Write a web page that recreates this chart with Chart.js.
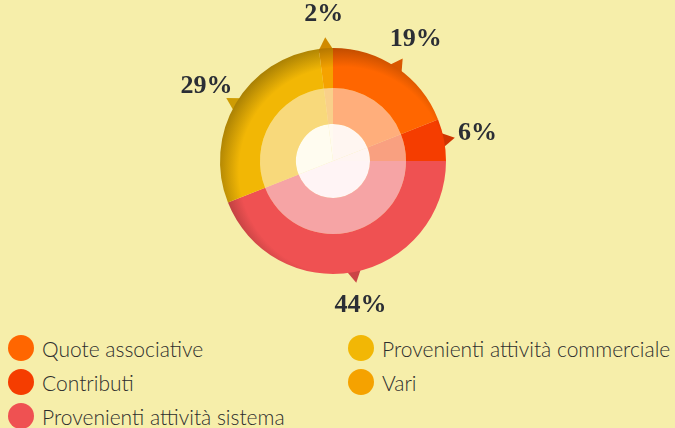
<!DOCTYPE html>
<html>
<head>
<meta charset="utf-8">
<script src="https://cdn.jsdelivr.net/npm/chart.js@4.4.0/dist/chart.umd.min.js"></script>
<style>
    html, body { margin: 0; padding: 0; width: 675px; height: 428px; overflow: hidden; background: #F6EEAA; }
    #grafico { position: absolute; left: 0; top: 0; }
    #legenda { position: absolute; left: 0; top: 331px; width: 675px; font-family: Lato, 'Open Sans', sans-serif; font-weight: 300; font-size: 21px; color: #2d2d2d; }
    .colonna { position: absolute; top: 0; }
    .voce { height: 34px; display: flex; align-items: center; white-space: nowrap; }
    .pallino { width: 26px; height: 26px; border-radius: 50%; margin-right: 8px; flex: none; }
</style>
</head>
<body>
<canvas id="grafico" width="675" height="330"></canvas>
<div id="legenda">
    <div class="colonna" id="colonna1" style="left: 8px;"></div>
    <div class="colonna" id="colonna2" style="left: 348px;"></div>
</div>
<script>
var categorie = [
    'Quote associative',
    'Contributi',
    'Provenienti attività sistema',
    'Provenienti attività commerciale',
    'Vari'
];
var percentuali = [19, 6, 44, 29, 2];

var coloriEsterni = ['#FF6600', '#F53D00', '#EF5152', '#F2B705', '#F5A200'];
var coloriInterni = ['#FFAE7B', '#F9A080', '#F6A4A5', '#F8D97B', '#F9D08A'];
var coloriCentro = ['#FFF6F1', '#FFF5F2', '#FFF4F5', '#FFFCF0', '#FFFAF0'];

function scurisci(hex, f) {
    var n = parseInt(hex.slice(1), 16);
    var r = Math.round(((n >> 16) & 255) * f);
    var g = Math.round(((n >> 8) & 255) * f);
    var b = Math.round((n & 255) * f);
    return 'rgb(' + r + ',' + g + ',' + b + ')';
}

// anello esterno con ombra verso l'alto a sinistra
function sfondoEsterno(context) {
    var base = coloriEsterni[context.dataIndex];
    var area = context.chart.chartArea;
    if (!area) return base;
    var cx = (area.left + area.right) / 2;
    var cy = (area.top + area.bottom) / 2;
    var g = context.chart.ctx.createRadialGradient(cx + 10, cy + 10, 104, cx + 10, cy + 10, 127);
    g.addColorStop(0, base);
    g.addColorStop(1, scurisci(base, 0.7));
    return g;
}

const puntatori = {
    id: 'puntatori',
    beforeDatasetsDraw(chart) {
        const ctx = chart.ctx;
        chart.getDatasetMeta(0).data.forEach(function (arc, i) {
            const p = arc.getProps(['x', 'y', 'startAngle', 'endAngle', 'outerRadius'], true);
            const mid = (p.startAngle + p.endAngle) / 2;
            const r = p.outerRadius;
            const meta = 9 / r;
            ctx.save();
            ctx.beginPath();
            ctx.moveTo(p.x + Math.cos(mid - meta) * (r - 4), p.y + Math.sin(mid - meta) * (r - 4));
            ctx.lineTo(p.x + Math.cos(mid) * (r + 11), p.y + Math.sin(mid) * (r + 11));
            ctx.lineTo(p.x + Math.cos(mid + meta) * (r - 4), p.y + Math.sin(mid + meta) * (r - 4));
            ctx.closePath();
            ctx.fillStyle = scurisci(coloriEsterni[i], 0.85);
            ctx.fill();
            ctx.restore();
        });
    },
    afterDatasetsDraw(chart) {
        const ctx = chart.ctx;
        ctx.save();
        ctx.font = 'bold 26px "Liberation Serif", "DejaVu Serif", serif';
        ctx.fillStyle = '#2B2E35';
        ctx.textAlign = 'center';
        ctx.textBaseline = 'middle';
        chart.getDatasetMeta(0).data.forEach(function (arc, i) {
            const p = arc.getProps(['x', 'y', 'startAngle', 'endAngle', 'outerRadius'], true);
            const mid = (p.startAngle + p.endAngle) / 2;
            const r = p.outerRadius + 34;
            ctx.fillText(percentuali[i] + '%', p.x + Math.cos(mid) * r, p.y + Math.sin(mid) * r);
        });
        ctx.restore();
    }
};

const dati = {
    labels: categorie,
    datasets: [{
        data: percentuali,
        backgroundColor: sfondoEsterno,
        borderWidth: 0,
        weight: 40
    }, {
        data: percentuali,
        backgroundColor: coloriInterni,
        borderWidth: 0,
        weight: 36
    }, {
        data: percentuali,
        backgroundColor: coloriCentro,
        borderWidth: 0,
        weight: 37
    }]
};

const configurazione = {
    type: 'doughnut',
    data: dati,
    options: {
        responsive: false,
        animation: false,
        cutout: 0,
        layout: { padding: { left: 220, right: 229, top: 48, bottom: 56 } },
        plugins: {
            legend: { display: false },
            tooltip: { enabled: false }
        }
    },
    plugins: [puntatori]
};

const grafico = new Chart(document.getElementById('grafico'), configurazione);

// legenda in due colonne
categorie.forEach(function (nome, i) {
    var voce = document.createElement('div');
    voce.className = 'voce';
    var pallino = document.createElement('span');
    pallino.className = 'pallino';
    pallino.style.background = coloriEsterni[i];
    var testo = document.createElement('span');
    testo.textContent = nome;
    voce.appendChild(pallino);
    voce.appendChild(testo);
    document.getElementById(i < 3 ? 'colonna1' : 'colonna2').appendChild(voce);
});
</script>
</body>
</html>
